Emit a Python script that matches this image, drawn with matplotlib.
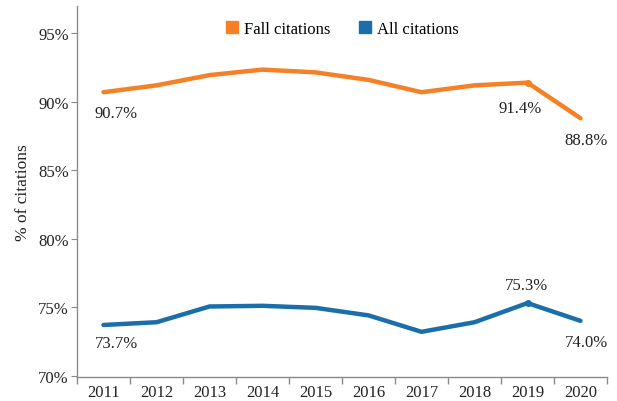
import matplotlib
matplotlib.use("Agg")
import matplotlib.pyplot as plt
import numpy as np
from matplotlib.lines import Line2D

years = ["2011", "2012", "2013", "2014", "2015", "2016", "2017", "2018", "2019", "2020"]
fall_citations = [90.7, 91.2, 91.95, 92.35, 92.15, 91.6, 90.7, 91.2, 91.4, 88.8]
all_citations = [73.7, 73.9, 75.05, 75.1, 74.95, 74.4, 73.2, 73.9, 75.3, 74.0]
yticks = [70, 75, 80, 85, 90, 95]

ORANGE = "#F58025"
BLUE = "#1A6FAA"
GREY = "#8a8a8a"
TXT = "#222222"
FS = 12

plt.rcParams['font.family'] = ['Liberation Serif', 'DejaVu Serif']

fig = plt.figure(figsize=(6.17, 4.02), dpi=100)
ax = fig.add_axes([0.1248, 0.0597, 0.859, 0.923])

x = np.arange(len(years))
ax.plot(x, fall_citations, color=ORANGE, lw=3.2, solid_joinstyle='round', solid_capstyle='round', label="Fall citations")
ax.plot(x, all_citations, color=BLUE, lw=3.2, solid_joinstyle='round', solid_capstyle='round', label="All citations")
ax.plot([x[8]], [fall_citations[8]], 'o', color=ORANGE, ms=4)
ax.plot([x[8]], [all_citations[8]], 'o', color=BLUE, ms=4)

ax.set_xlim(-0.5, len(years) - 0.5)
ax.set_ylim(69.9, 97.0)
ax.set_yticks(yticks)
ax.set_yticklabels([f"{v}%" for v in yticks])
ax.set_xticks(x)
ax.set_xticklabels(years)
ax.set_xticks(np.arange(-0.5, len(years)), minor=True)
ax.tick_params(axis='x', which='major', length=0, labelsize=FS, pad=5, colors=TXT)
ax.tick_params(axis='x', which='minor', length=5, color=GREY, width=1)
ax.tick_params(axis='y', which='major', length=4, color=GREY, labelsize=FS, pad=2, labelcolor=TXT)

for side in ['top', 'right']:
    ax.spines[side].set_visible(False)
for side in ['left', 'bottom']:
    ax.spines[side].set_color(GREY)
    ax.spines[side].set_linewidth(1)

ax.set_ylabel("% of citations", fontsize=12.5, labelpad=5, color=TXT)

def lab(i, vals, dx, dy):
    ax.annotate(f"{vals[i]:.1f}%", (x[i], vals[i]), xytext=(dx, dy), textcoords='offset points',
                ha='center', va='center', fontsize=FS, color=TXT)

lab(0, fall_citations, 9, -15)
lab(8, fall_citations, -5, -18)
lab(9, fall_citations, 4, -16)
lab(0, all_citations, 9, -13)
lab(8, all_citations, -1, 13)
lab(9, all_citations, 4, -15)

handles = [Line2D([], [], marker='s', ls='', color=ORANGE, ms=9),
           Line2D([], [], marker='s', ls='', color=BLUE, ms=9)]
ax.legend(handles, ["Fall citations", "All citations"], loc='upper center', bbox_to_anchor=(0.5, 1.0),
          ncol=2, frameon=False, fontsize=FS, handlelength=0.8, handletextpad=0.3, columnspacing=1.7)

fig.savefig("out.png", dpi=100)
